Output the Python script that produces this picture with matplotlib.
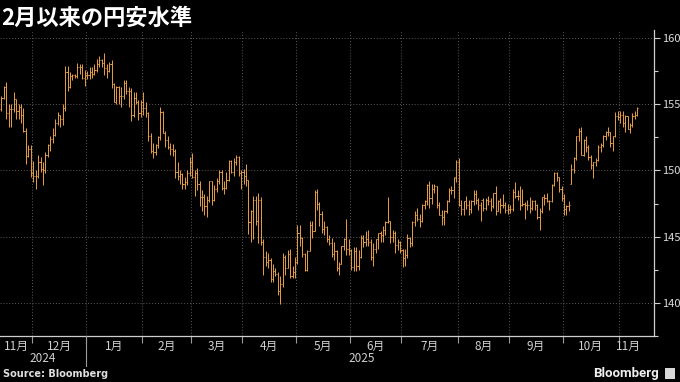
import numpy as np
import pandas as pd
import matplotlib
matplotlib.use("Agg")
import matplotlib.pyplot as plt
from matplotlib.collections import LineCollection
from matplotlib.lines import Line2D
from matplotlib.transforms import blended_transform_factory

plt.rcParams['font.family'] = ['Noto Sans CJK JP', 'DejaVu Sans']

title = "2月以来の円安水準"
source = "Source: Bloomberg"
start_date = "2024-11-13"
end_date = "2025-11-12"
y_ticks = [140, 145, 150, 155, 160]

# USD/JPY daily OHLC (one line per month: Nov-24 ... Nov-25)
opens = [
    154.6,155.5,156.3,154.3,154.6,154.6,155.4,154.5,154.8,154.2,153.0,151.1,151.6,
    149.8,149.6,149.6,150.6,150.1,150.0,151.2,151.9,152.4,152.7,153.6,154.2,153.9,154.7,157.4,156.3,157.1,157.2,157.1,157.8,157.8,157.0,
    157.2,157.2,157.4,157.3,157.6,158.0,158.3,158.1,157.7,157.5,158.0,156.5,155.2,156.3,155.6,155.6,156.6,156.0,156.0,154.2,155.5,155.2,154.3,
    155.2,154.7,154.3,152.6,151.5,151.4,151.9,152.5,154.4,152.8,152.3,151.8,151.6,151.5,149.9,149.6,149.7,149.0,149.1,149.8,
    150.6,149.5,149.8,149.0,148.0,148.0,147.3,147.8,149.2,147.8,148.6,149.2,149.9,148.7,148.7,149.3,150.7,149.9,150.6,151.0,149.8,
    149.9,149.6,149.3,146.1,146.9,147.8,146.2,147.8,144.6,143.5,143.1,143.2,141.8,142.4,142.2,140.9,141.4,143.5,142.6,143.7,142.0,142.3,
    143.1,145.3,144.9,143.7,142.5,143.9,145.9,145.4,148.4,147.5,146.7,145.6,145.7,144.8,144.5,143.7,143.9,142.6,142.9,144.3,144.8,144.1,
    144.0,142.7,143.9,142.8,143.5,144.9,144.6,144.8,144.6,143.5,144.1,144.8,145.3,145.1,145.5,146.1,146.2,145.0,145.3,144.4,144.6,
    144.0,143.4,143.6,144.9,144.5,146.1,146.6,146.3,146.2,147.4,147.7,148.9,147.9,148.6,148.8,147.4,146.6,146.5,146.9,147.7,148.5,148.5,149.5,
    150.6,147.4,147.1,147.7,147.4,147.1,147.7,148.2,147.8,147.4,147.8,147.2,147.8,147.7,147.3,148.3,146.9,147.7,147.4,147.4,147.0,
    147.1,147.1,148.4,148.1,148.1,147.4,147.5,147.4,147.4,147.2,147.7,147.4,146.5,146.9,148.0,147.9,147.7,147.7,148.9,149.8,149.5,148.6,
    147.9,147.1,147.3,149.0,150.1,150.9,152.6,153.0,151.2,152.3,151.8,151.0,150.4,150.6,150.8,151.8,151.9,152.6,152.9,152.9,152.1,152.6,154.1,
    154.0,154.2,153.6,154.1,153.1,153.4,154.1,154.2,
]
highs = [
    155.6,156.4,156.7,155.0,155.0,155.9,155.4,155.0,155.0,154.7,153.2,151.9,151.9,
    150.7,150.0,151.2,151.0,150.6,151.4,152.0,152.6,153.2,153.9,154.4,154.2,155.0,157.9,157.9,157.4,157.3,157.3,158.1,158.0,158.0,157.6,
    157.5,157.8,157.8,158.0,158.4,158.6,158.4,158.9,158.0,158.2,158.3,156.6,156.4,156.4,156.3,156.8,156.8,156.3,156.2,155.9,155.9,155.3,155.3,
    155.9,155.2,154.4,152.8,152.1,152.0,152.6,154.8,154.5,153.0,152.6,152.1,152.0,151.6,150.6,150.0,149.8,149.5,150.0,151.0,
    151.3,150.0,150.2,149.2,148.5,148.2,148.1,149.2,149.2,148.9,149.4,150.0,150.0,149.2,149.9,150.8,150.8,150.9,151.2,151.1,150.0,
    150.1,150.5,149.3,147.0,148.1,148.1,148.3,148.0,144.8,143.9,143.8,143.4,142.9,142.6,142.3,142.0,143.8,143.6,144.0,144.1,142.8,143.5,
    145.9,145.9,145.0,143.8,144.0,146.2,146.2,148.5,148.6,147.6,146.9,146.2,145.8,145.1,144.9,144.6,144.0,143.1,144.3,144.9,146.3,144.8,
    144.1,144.2,144.2,144.0,145.1,145.1,145.4,145.5,144.8,144.5,144.8,145.3,145.4,145.8,146.2,148.0,146.2,145.5,145.4,144.8,144.7,
    144.1,144.1,145.2,145.0,146.2,146.9,147.2,146.7,147.5,147.8,149.0,149.2,149.0,149.0,148.8,147.6,147.0,147.0,147.8,148.7,148.8,149.5,150.8,
    150.9,147.8,147.7,148.1,147.8,147.8,148.5,148.5,147.9,147.6,147.9,147.9,148.1,147.9,148.3,148.8,147.8,147.9,148.2,147.6,147.5,
    147.4,148.6,149.1,148.5,148.8,148.6,147.6,147.8,148.0,147.8,147.8,147.5,147.2,148.0,148.2,148.3,147.8,149.0,149.9,149.9,149.5,148.8,
    148.2,147.4,147.7,150.5,151.0,152.6,153.2,153.3,152.4,152.6,151.9,151.2,150.6,150.9,151.9,152.1,152.7,153.0,153.3,152.9,152.6,154.4,154.5,
    154.5,154.5,154.2,154.1,153.6,154.3,154.5,154.8,
]
lows = [
    154.5,155.4,153.9,153.3,153.3,154.4,153.9,153.9,153.6,152.9,150.5,151.0,149.5,
    149.1,148.6,149.4,149.9,148.9,149.8,151.0,151.5,152.1,152.6,153.4,153.3,153.4,154.5,156.0,156.2,156.8,157.0,157.0,157.3,156.9,156.4,
    156.9,156.9,157.0,157.2,157.4,157.8,157.8,157.2,157.0,157.4,156.2,155.2,155.0,155.0,154.8,155.4,155.8,154.8,153.7,154.0,155.0,153.8,154.0,
    154.2,154.0,152.2,151.3,150.9,151.2,151.7,152.3,152.8,151.8,151.6,151.2,151.1,149.4,149.3,149.0,148.6,148.6,148.9,149.6,
    149.4,148.1,148.5,147.3,146.9,146.6,146.5,147.6,147.4,147.7,148.4,149.0,148.5,148.2,148.6,149.2,149.8,149.6,150.4,149.6,148.6,
    149.0,148.8,145.2,144.6,144.8,145.9,144.5,144.4,142.1,142.8,142.6,141.6,141.6,142.0,140.6,139.9,141.2,142.1,142.6,141.9,141.9,141.9,
    142.9,144.3,143.5,142.4,142.4,143.9,144.9,145.4,147.0,145.8,145.3,145.1,144.6,144.4,143.5,143.2,142.4,142.1,142.9,144.0,143.6,143.6,
    142.5,142.4,142.4,142.5,143.4,144.2,144.3,144.3,143.2,142.8,143.8,144.1,144.6,144.6,145.1,146.0,144.5,144.6,143.8,144.0,143.8,
    142.7,142.8,143.4,144.2,144.3,145.8,146.2,145.7,146.1,147.1,147.4,147.2,147.5,148.3,147.2,146.6,145.9,145.9,146.8,147.6,148.2,147.9,149.1,
    147.3,146.6,146.6,147.1,146.6,146.8,147.4,147.5,147.0,146.2,146.9,147.0,147.4,146.9,147.2,146.6,146.9,146.8,147.2,146.8,146.7,
    146.8,146.9,147.9,147.8,147.0,147.3,146.3,147.0,146.8,147.0,147.0,146.3,145.5,146.8,147.4,147.6,147.0,147.6,148.8,149.2,148.4,147.7,
    146.6,146.6,146.9,149.0,149.8,150.8,152.2,151.2,151.1,151.4,150.8,150.1,149.4,150.3,150.7,151.4,151.8,152.3,152.6,151.8,151.5,152.5,153.8,
    153.6,153.3,152.9,153.1,152.8,153.3,153.9,154.1,
]
closes = [
    155.5,156.3,154.3,154.6,154.6,155.4,154.5,154.8,154.2,153.0,151.1,151.6,149.8,
    149.6,149.6,150.6,150.1,150.0,151.2,151.9,152.4,152.7,153.6,154.2,153.9,154.7,157.4,156.3,157.1,157.2,157.1,157.8,157.8,157.0,157.2,
    157.2,157.4,157.3,157.6,158.0,158.3,158.1,157.7,157.5,158.0,156.5,155.2,156.3,155.6,155.6,156.6,156.0,156.0,154.2,155.5,155.2,154.3,155.2,
    154.7,154.3,152.6,151.5,151.4,151.9,152.5,154.4,152.8,152.3,151.8,151.6,151.5,149.9,149.6,149.7,149.0,149.1,149.8,150.6,
    149.5,149.8,149.0,148.0,148.0,147.3,147.8,149.2,147.8,148.6,149.2,149.9,148.7,148.7,149.3,150.7,149.9,150.6,151.0,149.8,149.9,
    149.6,149.3,146.1,146.9,147.8,146.2,147.8,144.6,143.5,143.1,143.2,141.8,142.4,142.2,140.9,141.4,143.5,142.6,143.7,142.0,142.3,143.1,
    145.3,144.9,143.7,142.5,143.9,145.9,145.4,148.4,147.5,146.7,145.6,145.7,144.8,144.5,143.7,143.9,142.6,142.9,144.3,144.8,144.1,144.0,
    142.7,143.9,142.8,143.5,144.9,144.6,144.8,144.6,143.5,144.1,144.8,145.3,145.1,145.5,146.1,146.2,145.0,145.3,144.4,144.6,144.0,
    143.4,143.6,144.9,144.5,146.1,146.6,146.3,146.2,147.4,147.7,148.9,147.9,148.6,148.8,147.4,146.6,146.5,146.9,147.7,148.5,148.5,149.4,150.6,
    147.4,147.1,147.7,147.4,147.1,147.7,148.2,147.8,147.4,147.8,147.2,147.8,147.7,147.3,148.3,146.9,147.7,147.4,147.4,147.0,147.1,
    147.1,148.4,148.1,148.1,147.4,147.5,147.4,147.4,147.2,147.7,147.4,146.5,146.9,148.0,147.9,147.7,147.7,148.9,149.8,149.5,148.6,147.9,
    147.1,147.3,147.4,150.1,150.9,152.6,153.0,151.2,152.3,151.8,151.0,150.4,150.6,150.8,151.8,151.9,152.6,152.9,152.9,152.1,152.6,154.1,154.0,
    154.2,153.6,154.1,153.1,153.4,154.1,154.2,154.7,
]

dates = pd.bdate_range(start_date, end_date)
n = len(dates)
assert n == len(opens) == len(highs) == len(lows) == len(closes), (n, len(opens), len(highs), len(lows), len(closes))
xs = np.arange(n)

W, H = 680, 382
fig = plt.figure(figsize=(W / 100, H / 100), dpi=100, facecolor='black')
ax_left, ax_right, ax_top, ax_bot = 0, 654, 30, 336
ax = fig.add_axes([ax_left / W, 1 - ax_bot / H, (ax_right - ax_left) / W, (ax_bot - ax_top) / H])
ax.set_facecolor('black')

bar_color = '#e99f42'
segs = []
for i in range(n):
    segs.append([(xs[i], lows[i]), (xs[i], highs[i])])
    segs.append([(xs[i] - 0.45, opens[i]), (xs[i], opens[i])])
    segs.append([(xs[i], closes[i]), (xs[i] + 0.45, closes[i])])
ax.add_collection(LineCollection(segs, colors=bar_color, linewidths=0.7))

ax.set_xlim(-0.6, 266.8)
ax.set_ylim(138.0, 160.6)

# month boundaries
months = dates.to_period('M')
bounds = [i - 0.5 for i in range(1, n) if months[i] != months[i - 1]]
ax.set_xticks(bounds)
ax.set_xticklabels([])
ax.tick_params(axis='x', which='major', length=5, width=0.8, color='#9a9a9a', direction='out')

ax.yaxis.tick_right()
ax.set_yticks(y_ticks)
ax.set_yticks(np.arange(137.5, 161, 2.5), minor=True)
ax.set_yticklabels([str(t) for t in y_ticks])
ax.tick_params(axis='y', which='major', length=4, width=0.8, color='#cfcfcf',
               labelcolor='#dcdcdc', labelsize=8, pad=1.5)
ax.tick_params(axis='y', which='minor', length=3, width=0.8, color='#cfcfcf')

ax.grid(True, which='major', color='#5a5a5a', linestyle=(0, (1, 2)), linewidth=0.7)

for s in ['left', 'top']:
    ax.spines[s].set_visible(False)
ax.spines['right'].set_color('#cfcfcf')
ax.spines['bottom'].set_color('#cfcfcf')
ax.spines['right'].set_linewidth(0.9)
ax.spines['bottom'].set_linewidth(0.9)

# month labels
trans = blended_transform_factory(ax.transData, fig.transFigure)
month_groups = pd.Series(xs, index=dates).groupby(months)
for per, grp in month_groups:
    c = (grp.values[0] + grp.values[-1]) / 2
    ax.text(c, 1 - 346 / H, f"{per.month}月", transform=trans, ha='center', va='center',
            color='#d0d0d0', fontsize=8.5)
years = pd.Series(xs, index=dates).groupby(dates.year)
for yr, grp in years:
    c = (grp.values[0] + grp.values[-1]) / 2
    ax.text(c, 1 - 359 / H, str(yr), transform=trans, ha='center', va='center',
            color='#d0d0d0', fontsize=8.5)
# year separator tick
ybounds = [i - 0.5 for i in range(1, n) if dates[i].year != dates[i - 1].year]
for b in ybounds:
    fig.add_artist(Line2D([b, b], [1 - ax_bot / H, 1 - 366 / H], transform=trans,
                          color='#9a9a9a', linewidth=0.8))

fig.text(1 / W, 1 - 18 / H, title, color='white', fontsize=16, fontweight='bold',
         ha='left', va='center')
fig.text(3 / W, 1 - 374 / H, source, color='#e0e0e0', fontsize=7, fontweight='bold',
         ha='left', va='center', family=['DejaVu Sans'])
fig.text(659 / W, 1 - 373 / H, "Bloomberg", color='#f0f0f0', fontsize=9.5, fontweight='bold',
         ha='right', va='center', family=['Roboto', 'DejaVu Sans'])
fig.add_artist(plt.Rectangle((665 / W, 1 - 379 / H), 10 / W, 11 / H, transform=fig.transFigure,
                             facecolor='#d8d8d8', edgecolor='none'))

fig.savefig("out.png", dpi=100, facecolor='black')
